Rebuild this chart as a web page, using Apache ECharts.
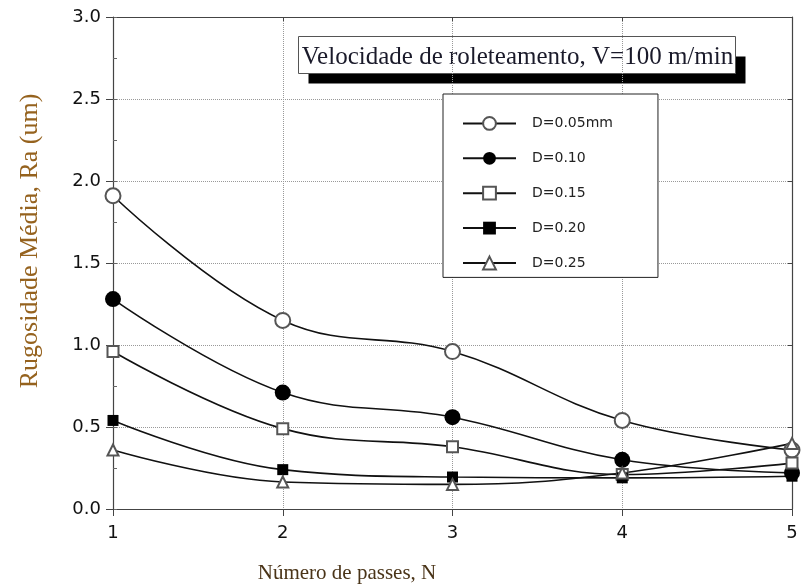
<!DOCTYPE html>
<html>
<head>
<meta charset="utf-8">
<script src="https://cdn.jsdelivr.net/npm/echarts@6/dist/echarts.min.js"></script>
<style>html,body{margin:0;padding:0;background:#fff}#c{width:802px;height:588px}</style>
</head>
<body>
<div id="c"></div>
<script>
var passes = [1, 2, 3, 4, 5];
var seriesNames = ['D=0.05mm', 'D=0.10', 'D=0.15', 'D=0.20', 'D=0.25'];
var d005 = [1.91, 1.15, 0.96, 0.54, 0.36];
var d010 = [1.28, 0.71, 0.56, 0.30, 0.22];
var d015 = [0.96, 0.49, 0.38, 0.21, 0.28];
var d020 = [0.54, 0.24, 0.195, 0.19, 0.20];
var d025 = [0.36, 0.165, 0.15, 0.22, 0.40];
var titleText = 'Velocidade de roleteamento, V=100 m/min';
var xName = 'Número de passes, N';
var yName = 'Rugosidade Média, Ra (um)';

function pairs(v){ return passes.map(function(x,i){ return [x, v[i]]; }); }
var styles = [
  {symbol:'emptyCircle', size:15, color:'#555'},
  {symbol:'circle', size:16, color:'#000'},
  {symbol:'emptyRect', size:11, color:'#555'},
  {symbol:'rect', size:11, color:'#000'},
  {symbol:'emptyTriangle', size:11, color:'#555'}
];
var allData = [d005, d010, d015, d020, d025];
var series = allData.map(function(v, i){
  var s = styles[i];
  return {
    name: seriesNames[i], type:'line', smooth:0.4, data: pairs(v),
    symbol: s.symbol, symbolSize: s.size,
    lineStyle:{color:'#111', width:1.6},
    itemStyle:{color: s.color, borderWidth: 1.2},
    z: 3
  };
});

var chart = echarts.init(document.getElementById('c'), null, {renderer:'canvas'});
chart.setOption({
  animation:false,
  backgroundColor:'#fff',
  grid:{left:113, right:10, top:17, bottom:79, show:false},
  legend:{
    orient:'vertical', left:443, top:94,
    data: seriesNames,
    itemWidth:53, itemHeight:16, itemGap:20.5,
    padding:[22, 45, 7, 19],
    borderColor:'#222', borderWidth:1, backgroundColor:'#fff',
    textStyle:{fontFamily:'DejaVu Sans', fontSize:14, color:'#222', padding:[0,0,0,11]}
  },
  xAxis:[{
    type:'value', min:1, max:5, interval:1,
    axisLine:{show:true, onZero:false, lineStyle:{color:'#444', width:1.2}},
    axisTick:{show:true, inside:false, length:7, lineStyle:{color:'#444'}},
    axisLabel:{fontFamily:'DejaVu Sans', fontSize:18, color:'#111', margin:15},
    splitLine:{show:true, lineStyle:{type:'dotted', color:'#999'}}
  },{
    type:'value', min:1, max:5, interval:1, position:'top',
    axisLine:{show:true, onZero:false, lineStyle:{color:'#444', width:1.2}},
    axisTick:{show:true, inside:true, length:4, lineStyle:{color:'#444'}},
    axisLabel:{show:false}, splitLine:{show:false}
  }],
  yAxis:[{
    type:'value', min:0, max:3, interval:0.5,
    axisLine:{show:true, onZero:false, lineStyle:{color:'#444', width:1.2}},
    axisTick:{show:true, inside:false, length:7, lineStyle:{color:'#444'}},
    axisLabel:{fontFamily:'DejaVu Sans', fontSize:18, color:'#111', margin:12,
      formatter:function(v){return v.toFixed(1);}},
    splitLine:{show:true, lineStyle:{type:'dotted', color:'#999'}}
  },{
    type:'value', min:0, max:3, interval:0.5, position:'right',
    axisLine:{show:true, onZero:false, lineStyle:{color:'#444', width:1.2}},
    axisTick:{show:true, inside:true, length:4, lineStyle:{color:'#444'}},
    axisLabel:{show:false}, splitLine:{show:false}
  },{
    type:'value', min:0, max:3, interval:0.25, position:'left',
    axisLine:{show:false},
    axisTick:{show:true, inside:true, length:4, lineStyle:{color:'#666'}},
    axisLabel:{show:false}, splitLine:{show:false}
  }],
  graphic:[{
    type:'group', left:298, top:36, z:10,
    children:[
      {type:'rect', shape:{x:10, y:20, width:437, height:27}, style:{fill:'#000'}},
      {type:'rect', shape:{x:0, y:0, width:437, height:37}, style:{fill:'#fff', stroke:'#555', lineWidth:1}},
      {type:'text', x:219, y:21, style:{text:titleText, fontFamily:'Liberation Serif', fontSize:25,
        fill:'#1a1a2a', align:'center', verticalAlign:'middle'}}
    ]
  },{
    type:'text', x:30, y:241, rotation:Math.PI/2, z:10,
    style:{text:yName, fontFamily:'Liberation Serif', fontSize:26, fill:'#95621e', align:'center', verticalAlign:'middle'}
  },{
    type:'text', x:347, y:573, z:10,
    style:{text:xName, fontFamily:'Liberation Serif', fontSize:21, fill:'#4a3418', align:'center', verticalAlign:'middle'}
  }],
  series: series
});
</script>
</body>
</html>
